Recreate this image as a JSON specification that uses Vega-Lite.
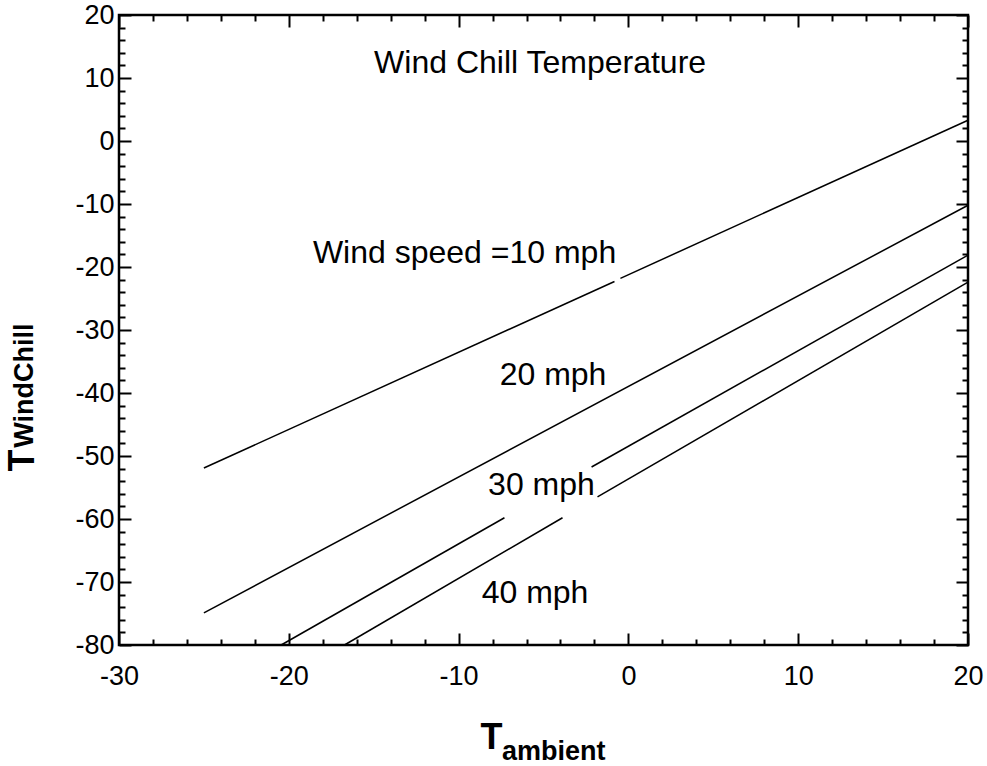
{
  "$schema": "https://vega.github.io/schema/vega-lite/v6.json",
  "width": 849,
  "height": 630,
  "autosize": "none",
  "padding": {"left": 119, "top": 15, "right": 19, "bottom": 121},
  "background": "white",
  "config": {
    "view": {"stroke": "black", "strokeWidth": 2.5},
    "font": "Liberation Sans",
    "axis": {
      "grid": false,
      "domain": false,
      "labelFont": "Liberation Sans",
      "labelFontSize": 27,
      "labelColor": "black",
      "tickColor": "black",
      "tickWidth": 2,
      "labelFlush": false,
      "labelOverlap": false,
      "titleColor": "black",
      "titleFont": "Liberation Sans"
    }
  },
  "datasets": {
    "lines": [
      {"speed": "10 mph", "seg": "10a", "T": -25, "V": -51.9},
      {"speed": "10 mph", "seg": "10a", "T": -0.82, "V": -22.3},
      {"speed": "10 mph", "seg": "10b", "T": -0.47, "V": -21.8},
      {"speed": "10 mph", "seg": "10b", "T": 20, "V": 3.3},
      {"speed": "20 mph", "seg": "20a", "T": -25, "V": -74.9},
      {"speed": "20 mph", "seg": "20a", "T": 20, "V": -10.2},
      {"speed": "30 mph", "seg": "30a", "T": -20.45, "V": -80},
      {"speed": "30 mph", "seg": "30a", "T": -7.3, "V": -59.8},
      {"speed": "30 mph", "seg": "30b", "T": -2.17, "V": -51.75},
      {"speed": "30 mph", "seg": "30b", "T": 20, "V": -18.1},
      {"speed": "40 mph", "seg": "40a", "T": -16.72, "V": -80},
      {"speed": "40 mph", "seg": "40a", "T": -3.88, "V": -59.8},
      {"speed": "40 mph", "seg": "40b", "T": -1.82, "V": -56.5},
      {"speed": "40 mph", "seg": "40b", "T": 20, "V": -22.4}
    ],
    "labels": [
      {"label": "Wind Chill Temperature", "T": -5.2, "V": 10.8},
      {"label": "Wind speed =10 mph", "T": -9.65, "V": -19.4},
      {"label": "20 mph", "T": -4.44, "V": -38.7},
      {"label": "30 mph", "T": -5.12, "V": -56.2},
      {"label": "40 mph", "T": -5.5, "V": -73.3}
    ],
    "subscripts": [
      {"sub": "ambient", "T": -7.44, "V": -98.25, "dir": "x"},
      {"sub": "WindChill", "T": -35.06, "V": -48.7, "dir": "y"}
    ]
  },
  "resolve": {"axis": {"x": "independent", "y": "independent"}},
  "layer": [
    {
      "data": {"name": "lines"},
      "mark": {"type": "line", "color": "black", "strokeWidth": 1.5},
      "encoding": {
        "x": {
          "field": "T", "type": "quantitative",
          "scale": {"domain": [-30, 20], "nice": false, "zero": false},
          "axis": {
            "orient": "bottom", "values": [-30, -20, -10, 0, 10, 20], "ticks": false,
            "labelPadding": 18, "labelExpr": "'' + datum.value",
            "title": "T", "titleFontSize": 36, "titleFontWeight": "bold",
            "titleX": 372, "titleY": 103, "titleAlign": "center", "titleBaseline": "alphabetic", "titleAngle": 0
          }
        },
        "y": {
          "field": "V", "type": "quantitative",
          "scale": {"domain": [-80, 20], "nice": false, "zero": false},
          "axis": {
            "orient": "left", "values": [-80, -70, -60, -50, -40, -30, -20, -10, 0, 10, 20], "ticks": false,
            "labelPadding": 5, "labelExpr": "'' + datum.value",
            "title": "T", "titleFontSize": 36, "titleFontWeight": "bold",
            "titleX": -86, "titleY": 445, "titleAlign": "center", "titleBaseline": "alphabetic", "titleAngle": 270
          }
        },
        "detail": {"field": "seg"}
      }
    },
    {
      "data": {"name": "lines"},
      "mark": {"type": "line", "strokeOpacity": 0},
      "encoding": {
        "x": {"field": "T", "type": "quantitative", "scale": {"domain": [-30, 20], "nice": false, "zero": false},
          "axis": {"orient": "bottom", "values": [-30, -20, -10, 0, 10, 20], "tickSize": -12, "labels": false, "title": null}},
        "y": {"field": "V", "type": "quantitative", "scale": {"domain": [-80, 20], "nice": false, "zero": false},
          "axis": {"orient": "left", "values": [-80, -70, -60, -50, -40, -30, -20, -10, 0, 10, 20], "tickSize": -12, "labels": false, "title": null}},
        "detail": {"field": "seg"}
      }
    },
    {
      "data": {"name": "lines"},
      "mark": {"type": "line", "strokeOpacity": 0},
      "encoding": {
        "x": {"field": "T", "type": "quantitative", "scale": {"domain": [-30, 20], "nice": false, "zero": false},
          "axis": {"orient": "bottom", "values": [-28, -26, -24, -22, -18, -16, -14, -12, -8, -6, -4, -2, 2, 4, 6, 8, 12, 14, 16, 18], "tickSize": -6, "labels": false, "title": null}},
        "y": {"field": "V", "type": "quantitative", "scale": {"domain": [-80, 20], "nice": false, "zero": false},
          "axis": {"orient": "left", "values": [-78, -76, -74, -72, -68, -66, -64, -62, -58, -56, -54, -52, -48, -46, -44, -42, -38, -36, -34, -32, -28, -26, -24, -22, -18, -16, -14, -12, -8, -6, -4, -2, 2, 4, 6, 8, 12, 14, 16, 18], "tickSize": -6, "labels": false, "title": null}},
        "detail": {"field": "seg"}
      }
    },
    {
      "data": {"name": "lines"},
      "mark": {"type": "line", "strokeOpacity": 0},
      "encoding": {
        "x": {"field": "T", "type": "quantitative", "scale": {"domain": [-30, 20], "nice": false, "zero": false},
          "axis": {"orient": "top", "values": [-30, -20, -10, 0, 10, 20], "tickSize": -12, "labels": false, "title": null}},
        "y": {"field": "V", "type": "quantitative", "scale": {"domain": [-80, 20], "nice": false, "zero": false},
          "axis": {"orient": "right", "values": [-80, -70, -60, -50, -40, -30, -20, -10, 0, 10, 20], "tickSize": -12, "labels": false, "title": null}},
        "detail": {"field": "seg"}
      }
    },
    {
      "data": {"name": "lines"},
      "mark": {"type": "line", "strokeOpacity": 0},
      "encoding": {
        "x": {"field": "T", "type": "quantitative", "scale": {"domain": [-30, 20], "nice": false, "zero": false},
          "axis": {"orient": "top", "values": [-28, -26, -24, -22, -18, -16, -14, -12, -8, -6, -4, -2, 2, 4, 6, 8, 12, 14, 16, 18], "tickSize": -6, "labels": false, "title": null}},
        "y": {"field": "V", "type": "quantitative", "scale": {"domain": [-80, 20], "nice": false, "zero": false},
          "axis": {"orient": "right", "values": [-78, -76, -74, -72, -68, -66, -64, -62, -58, -56, -54, -52, -48, -46, -44, -42, -38, -36, -34, -32, -28, -26, -24, -22, -18, -16, -14, -12, -8, -6, -4, -2, 2, 4, 6, 8, 12, 14, 16, 18], "tickSize": -6, "labels": false, "title": null}},
        "detail": {"field": "seg"}
      }
    },
    {
      "data": {"name": "labels"},
      "mark": {"type": "text", "font": "Liberation Sans", "fontSize": 32, "color": "black", "align": "center", "baseline": "alphabetic"},
      "encoding": {
        "x": {"field": "T", "type": "quantitative", "scale": {"domain": [-30, 20], "nice": false, "zero": false}, "axis": null},
        "y": {"field": "V", "type": "quantitative", "scale": {"domain": [-80, 20], "nice": false, "zero": false}, "axis": null},
        "text": {"field": "label"}
      }
    },
    {
      "data": {"name": "subscripts"},
      "transform": [{"filter": "datum.dir == 'x'"}],
      "mark": {"type": "text", "font": "Liberation Sans", "fontSize": 27, "fontWeight": "bold", "color": "black", "align": "left", "baseline": "alphabetic"},
      "encoding": {
        "x": {"field": "T", "type": "quantitative", "scale": {"domain": [-30, 20], "nice": false, "zero": false}, "axis": null},
        "y": {"field": "V", "type": "quantitative", "scale": {"domain": [-80, 20], "nice": false, "zero": false}, "axis": null},
        "text": {"field": "sub"}
      }
    },
    {
      "data": {"name": "subscripts"},
      "transform": [{"filter": "datum.dir == 'y'"}],
      "mark": {"type": "text", "font": "Liberation Sans", "fontSize": 27, "fontWeight": "bold", "color": "black", "align": "left", "baseline": "alphabetic", "angle": 270},
      "encoding": {
        "x": {"field": "T", "type": "quantitative", "scale": {"domain": [-30, 20], "nice": false, "zero": false}, "axis": null},
        "y": {"field": "V", "type": "quantitative", "scale": {"domain": [-80, 20], "nice": false, "zero": false}, "axis": null},
        "text": {"field": "sub"}
      }
    }
  ]
}
